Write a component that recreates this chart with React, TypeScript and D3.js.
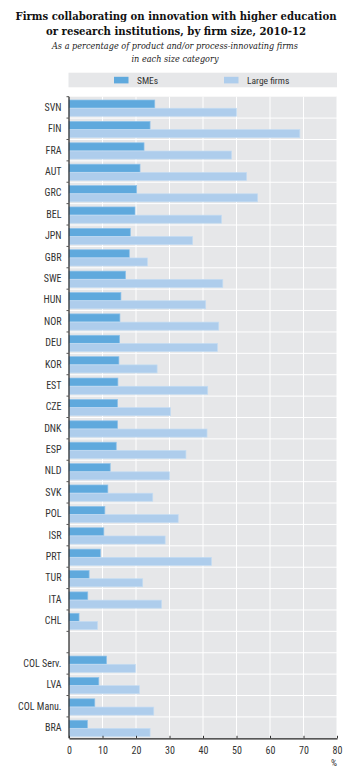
import React, { useEffect, useRef } from 'react';
import * as d3 from 'd3';

// countries top to bottom, "" is the gap before the Colombia group
const countries = [
  'SVN', 'FIN', 'FRA', 'AUT', 'GRC', 'BEL', 'JPN', 'GBR', 'SWE', 'HUN',
  'NOR', 'DEU', 'KOR', 'EST', 'CZE', 'DNK', 'ESP', 'NLD', 'SVK', 'POL',
  'ISR', 'PRT', 'TUR', 'ITA', 'CHL', '', 'COL Serv.', 'LVA', 'COL Manu.', 'BRA',
];
const smes = [
  25.6, 24.2, 22.4, 21.2, 20.2, 19.7, 18.3, 18.0, 16.9, 15.5,
  15.2, 15.1, 14.9, 14.6, 14.5, 14.5, 14.1, 12.3, 11.6, 10.7,
  10.4, 9.4, 6.0, 5.6, 3.0, null, 11.2, 8.9, 7.7, 5.5,
];
const largeFirms = [
  50.0, 68.9, 48.5, 53.0, 56.3, 45.5, 36.9, 23.4, 45.9, 40.8,
  44.7, 44.3, 26.3, 41.4, 30.3, 41.2, 34.9, 30.0, 25.0, 32.6,
  28.7, 42.5, 22.0, 27.6, 8.5, null, 19.8, 21.0, 25.3, 24.2,
];
const xTicks = [0, 10, 20, 30, 40, 50, 60, 70, 80];
const seriesNames = ['SMEs', 'Large firms'];

const titleLines = [
  'Firms collaborating on innovation with higher education',
  'or research institutions, by firm size, 2010-12',
];
const subtitleLines = [
  'As a percentage of product and/or process-innovating firms',
  'in each size category',
];

const W = 351;
const H = 772;
const NARROW = '"Liberation Sans Narrow", "Arial Narrow", "Roboto Condensed", sans-serif';
const SERIF = '"DejaVu Serif", "Liberation Serif", serif';

function App() {
  const svgRef = useRef(null);

  useEffect(() => {
    const svg = d3.select(svgRef.current);
    svg.selectAll('*').remove();

    const margin = { top: 96.7, left: 69, right: 14, bottom: 33.7 };
    const x = d3.scaleLinear().domain([0, 80]).range([margin.left, W - margin.right]);
    const y = d3.scaleBand()
      .domain(countries.map((d, i) => String(i)))
      .range([margin.top, H - margin.bottom]);
    const bw = y.bandwidth();
    const colors = ['#5fa9dd', '#aecdec'];

    // titles
    const titleW = [321, 260];
    titleLines.forEach((t, i) => {
      svg.append('text')
        .attr('x', W / 2 + 0.5)
        .attr('y', 19.5 + i * 15)
        .attr('text-anchor', 'middle')
        .attr('font-family', SERIF)
        .attr('font-weight', 'bold')
        .attr('font-size', 10.5)
        .attr('textLength', titleW[i])
        .attr('lengthAdjust', 'spacingAndGlyphs')
        .attr('fill', '#111')
        .text(t);
    });
    const subW = [246, 87];
    subtitleLines.forEach((t, i) => {
      svg.append('text')
        .attr('x', W / 2 - 0.5)
        .attr('y', 49 + i * 13.3)
        .attr('text-anchor', 'middle')
        .attr('font-family', SERIF)
        .attr('font-style', 'italic')
        .attr('font-size', 8.6)
        .attr('textLength', subW[i])
        .attr('lengthAdjust', 'spacingAndGlyphs')
        .attr('fill', '#222')
        .text(t);
    });

    // legend
    svg.append('rect')
      .attr('x', margin.left - 0.5).attr('y', 72.7)
      .attr('width', x(80) - margin.left + 0.5).attr('height', 14.6)
      .attr('fill', '#e6e7e9');
    const legendX = [114, 224];
    seriesNames.forEach((name, i) => {
      svg.append('rect')
        .attr('x', legendX[i]).attr('y', 76.8)
        .attr('width', 14.5).attr('height', 6.6)
        .attr('fill', colors[i]);
      svg.append('text')
        .attr('x', legendX[i] + 23).attr('y', 83.6)
        .attr('font-family', NARROW)
        .attr('font-size', 9.5)
        .attr('fill', '#333')
        .text(name);
    });

    // plot background
    svg.append('rect')
      .attr('x', x(0)).attr('y', margin.top)
      .attr('width', x(80) - x(0)).attr('height', H - margin.bottom - margin.top)
      .attr('fill', '#e6e7e9');

    // white grid
    const grid = svg.append('g').attr('stroke', '#fff').attr('stroke-width', 1);
    xTicks.slice(1).forEach(t => {
      grid.append('line')
        .attr('x1', x(t)).attr('x2', x(t))
        .attr('y1', margin.top).attr('y2', H - margin.bottom);
    });
    countries.forEach((c, i) => {
      if (i === 0) return;
      const yy = y(String(i));
      grid.append('line')
        .attr('x1', x(0)).attr('x2', x(80))
        .attr('y1', yy).attr('y2', yy);
    });

    // bars
    const bars = svg.append('g');
    const seriesData = [smes, largeFirms];
    seriesData.forEach((vals, s) => {
      bars.selectAll(`.bar${s}`)
        .data(vals.map((v, i) => ({ v, i })).filter(d => d.v !== null))
        .enter().append('rect')
          .attr('class', `bar${s}`)
          .attr('x', x(0))
          .attr('y', d => y(String(d.i)) + bw * 0.155 + s * bw * 0.385)
          .attr('width', d => x(d.v) - x(0))
          .attr('height', bw * 0.375)
          .attr('fill', colors[s])
          .attr('stroke', s === 0 ? '#8fc2ea' : '#c4dcf2')
          .attr('stroke-width', 0.7);
    });

    // left axis with outward ticks at band edges
    const axisG = svg.append('g');
    axisG.append('line')
      .attr('x1', x(0)).attr('x2', x(0))
      .attr('y1', margin.top).attr('y2', H - margin.bottom)
      .attr('stroke', '#222').attr('stroke-width', 1.2);
    countries.forEach((c, i) => {
      const yy = y(String(i));
      axisG.append('line')
        .attr('x1', x(0) - 2.5).attr('x2', x(0))
        .attr('y1', yy).attr('y2', yy)
        .attr('stroke', '#555').attr('stroke-width', 1);
      if (c) {
        axisG.append('text')
          .attr('x', 61.5)
          .attr('y', yy + bw / 2 + 3.5)
          .attr('text-anchor', 'end')
          .attr('font-family', NARROW)
          .attr('font-size', 10)
          .attr('fill', '#333')
          .text(c);
      }
    });

    // bottom axis
    const bottom = H - margin.bottom;
    const xAxis = d3.axisBottom(x).tickValues(xTicks).tickSizeInner(-2.5).tickSizeOuter(0).tickPadding(9);
    const xg = svg.append('g').attr('transform', `translate(0,${bottom})`).call(xAxis);
    xg.select('.domain').attr('stroke', '#222').attr('stroke-width', 1.2);
    xg.selectAll('.tick line').attr('stroke', '#333');
    xg.selectAll('.tick text')
      .attr('font-family', NARROW)
      .attr('font-size', 10)
      .attr('fill', '#333');
    svg.append('text')
      .attr('x', x(80) - 3).attr('y', bottom + 28)
      .attr('text-anchor', 'middle')
      .attr('font-family', NARROW)
      .attr('font-size', 9.5)
      .attr('fill', '#333')
      .text('%');
  }, []);

  return (
    <svg ref={svgRef} width={W} height={H}
      style={{ position: 'absolute', left: 0, top: 0, background: '#fff' }}></svg>
  );
}

export default App;
